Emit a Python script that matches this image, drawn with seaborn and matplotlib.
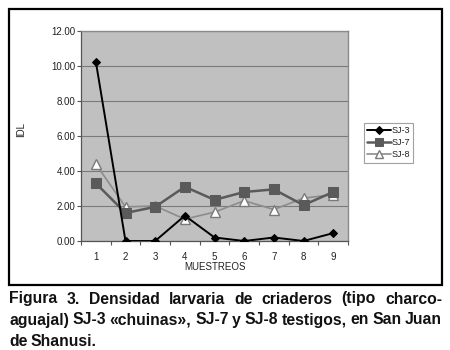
import numpy as np
import pandas as pd
import matplotlib
matplotlib.use("Agg")
import matplotlib.pyplot as plt
from matplotlib.patches import Rectangle
from matplotlib.ticker import FormatStrFormatter, FixedLocator
import seaborn as sns

# Data
muestreos = [1, 2, 3, 4, 5, 6, 7, 8, 9]
sj3 = [10.25, 0.0, 0.0, 1.45, 0.2, 0.0, 0.2, 0.0, 0.45]
sj7 = [3.3, 1.6, 1.95, 3.1, 2.35, 2.8, 2.95, 2.05, 2.8]
sj8 = [4.4, 1.95, 2.0, 1.25, 1.65, 2.3, 1.8, 2.45, 2.65]
series_names = ["SJ-3", "SJ-7", "SJ-8"]

caption_lines = [
    "Figura 3. Densidad larvaria de criaderos (tipo charco-",
    "aguajal) SJ-3 «chuinas», SJ-7 y SJ-8 testigos, en San Juan",
    "de Shanusi.",
]

sns.set_style("white")
plt.rcParams["font.family"] = ["Liberation Sans", "DejaVu Sans"]

fig = plt.figure(figsize=(4.5, 3.5), dpi=100)
W, H = 450, 350
ax = fig.add_axes([81 / W, 1 - 241 / H, 267 / W, 210 / H])
ax.set_facecolor("#c0c0c0")

styles = {
    "SJ-3": dict(color="black", marker="D", markersize=4.5, linewidth=1.4,
                 markerfacecolor="black", markeredgecolor="black"),
    "SJ-7": dict(color="#5a5a5a", marker="s", markersize=7.5, linewidth=1.8,
                 markerfacecolor="#5a5a5a", markeredgecolor="#5a5a5a"),
    "SJ-8": dict(color="#8c8c8c", marker="^", markersize=7, linewidth=1.2,
                 markerfacecolor="white", markeredgecolor="#7a7a7a",
                 markeredgewidth=1.0),
}
order = [("SJ-8", sj8), ("SJ-7", sj7), ("SJ-3", sj3)]
for name, vals in order:
    df = pd.DataFrame({"muestreo": muestreos, "idl": vals})
    sns.lineplot(data=df, x="muestreo", y="idl", ax=ax, label=name,
                 zorder=3 if name == "SJ-3" else 2, **styles[name])

handles, labels = ax.get_legend_handles_labels()
hmap = dict(zip(labels, handles))
if ax.get_legend() is not None:
    ax.get_legend().remove()

ax.set_xlim(0.5, 9.5)
ax.set_ylim(0, 12)
ax.set_yticks(np.arange(0, 12.1, 2))
ax.yaxis.set_major_formatter(FormatStrFormatter("%.2f"))
ax.set_xticks(muestreos)
ax.xaxis.set_minor_locator(FixedLocator(np.arange(0.5, 9.6, 1)))
ax.tick_params(axis="x", which="major", length=0, labelsize=7, pad=8, colors="#222222")
ax.tick_params(axis="x", which="minor", length=3, direction="out", color="#555555", width=0.8)
ax.tick_params(axis="y", length=3, direction="out", labelsize=7, color="#555555",
               width=0.8, pad=1, labelcolor="#222222")
ax.yaxis.set_ticks_position("left")
ax.xaxis.set_ticks_position("bottom")
ax.grid(axis="y", color="#7a7a7a", linewidth=0.8)
ax.set_axisbelow(True)
for side in ["top", "right"]:
    ax.spines[side].set_color("#8a8a8a")
    ax.spines[side].set_linewidth(1.0)
for side in ["left", "bottom"]:
    ax.spines[side].set_color("#555555")
    ax.spines[side].set_linewidth(0.9)

ax.set_xlabel("MUESTREOS", fontsize=7, labelpad=0, color="#222222")
ax.set_ylabel("IDL", fontsize=7, color="#222222")
ax.yaxis.set_label_coords(-0.205, 0.53)

# legend in original series order
leg = fig.legend([hmap[n] for n in series_names], series_names,
                 loc="upper left", bbox_to_anchor=(364 / W, 1 - 123 / H),
                 fontsize=6.5, frameon=True, fancybox=False, handlelength=2.6,
                 handletextpad=0.1, borderpad=0.35, labelspacing=0.35,
                 borderaxespad=0, markerscale=0.8)
leg.get_frame().set_edgecolor("#8a8a8a")
leg.get_frame().set_linewidth(0.8)
for t in leg.get_texts():
    t.set_color("#222222")

# outer frame
fig.patches.append(Rectangle((9 / W, 1 - 285 / H), 433 / W, 276 / H,
                             transform=fig.transFigure, fill=False,
                             edgecolor="black", linewidth=1.6))

# justified caption
cap_size = 11.3
fig.canvas.draw()
renderer = fig.canvas.get_renderer()
x_left, x_right = 9, 442
y_centers = [299, 320, 341]
for i, line in enumerate(caption_lines):
    words = line.split(" ")
    ypos = 1 - y_centers[i] / H
    texts = [fig.text(0, ypos, w, fontsize=cap_size, fontweight="bold", va="center",
                      ha="left", color="#111111") for w in words]
    widths = [t.get_window_extent(renderer).width for t in texts]
    if i < len(caption_lines) - 1:
        gap = (x_right - x_left - sum(widths)) / (len(words) - 1)
    else:
        gap = gap_last
    if i == 1:
        gap_last = gap
    x = x_left
    for t, w in zip(texts, widths):
        t.set_x(x / W)
        x += w + gap

fig.savefig("out.png", dpi=100)
